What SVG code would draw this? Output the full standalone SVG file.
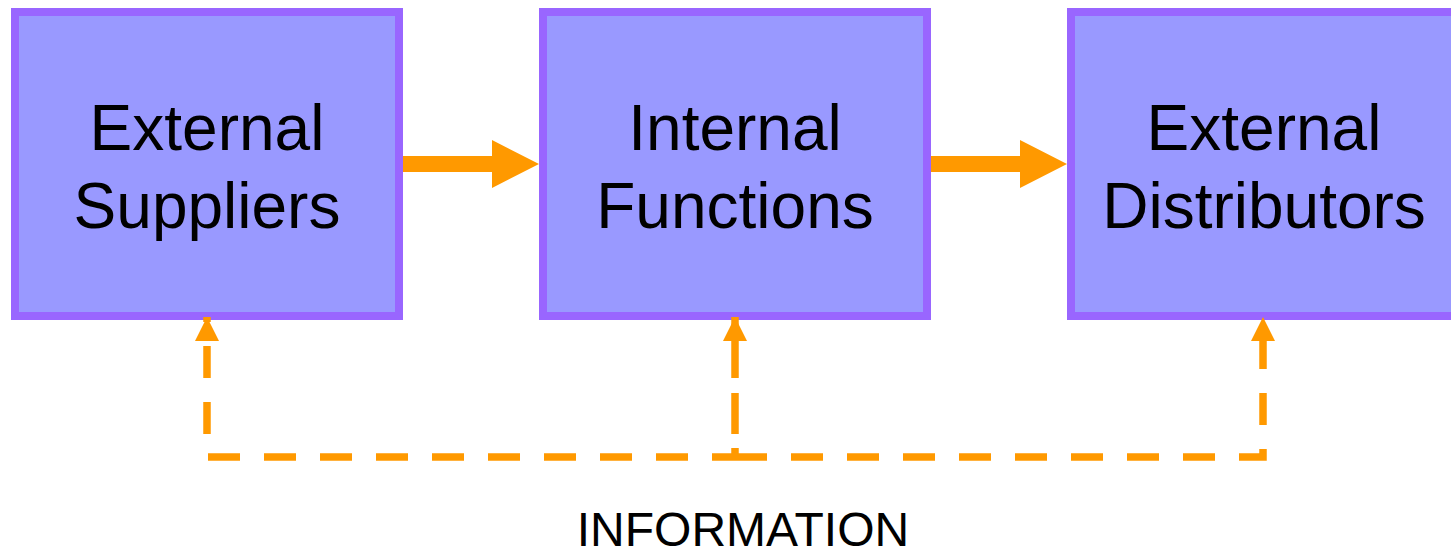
<svg xmlns="http://www.w3.org/2000/svg" width="1451" height="551" viewBox="0 0 1451 551">
  <style>
    .box { fill: #9999FF; stroke: #9966FF; stroke-width: 8; }
    .lbl { font-family: "Liberation Sans", Arial, sans-serif; font-size: 64px; fill: #000000; text-anchor: middle; }
    .info { font-family: "Liberation Sans", Arial, sans-serif; font-size: 48px; fill: #000000; text-anchor: middle; }
    .flow { fill: #FF9900; stroke: none; }
    .dash { fill: none; stroke: #FF9900; stroke-width: 7.5; stroke-linejoin: miter; stroke-linecap: butt; }
  </style>
  <defs>
    <marker id="ah" markerUnits="userSpaceOnUse" markerWidth="24" markerHeight="24" viewBox="0 0 24 24" refX="24" refY="12" orient="auto-start-reverse">
      <path d="M0,0 L24,12 L0,24 z" fill="#FF9900"/>
    </marker>
  </defs>
  <rect width="1451" height="551" fill="#FFFFFF"/>

  <g id="node-suppliers">
    <rect class="box" x="15" y="12" width="384" height="304"/>
    <text class="lbl" x="207" y="150">External</text>
    <text class="lbl" x="207" y="228">Suppliers</text>
  </g>
  <g id="node-internal">
    <rect class="box" x="543" y="12" width="384" height="304"/>
    <text class="lbl" x="735" y="150">Internal</text>
    <text class="lbl" x="735" y="228">Functions</text>
  </g>
  <g id="node-distributors">
    <rect class="box" x="1071" y="12" width="384" height="304"/>
    <text class="lbl" x="1264" y="150">External</text>
    <text class="lbl" x="1264" y="228">Distributors</text>
  </g>

  <g id="connectors">
    <path class="flow" d="M403,156 H492 V140 L539,164 L492,188 V172 H403 Z"/>
    <path class="flow" d="M931,156 H1020 V140 L1067,164 L1020,188 V172 H931 Z"/>
    <path class="dash" d="M207,317 V457 H735" stroke-dasharray="32 24" stroke-dashoffset="27" marker-start="url(#ah)"/>
    <path class="dash" d="M735,457 V317" stroke-dasharray="9 14 41 15 120" marker-end="url(#ah)"/>
    <path class="dash" d="M735,457 H1263 V317" stroke-dasharray="32 24" marker-end="url(#ah)"/>
  </g>

  <g id="label-information">
    <text class="info" x="743" y="546">INFORMATION</text>
  </g>
</svg>
